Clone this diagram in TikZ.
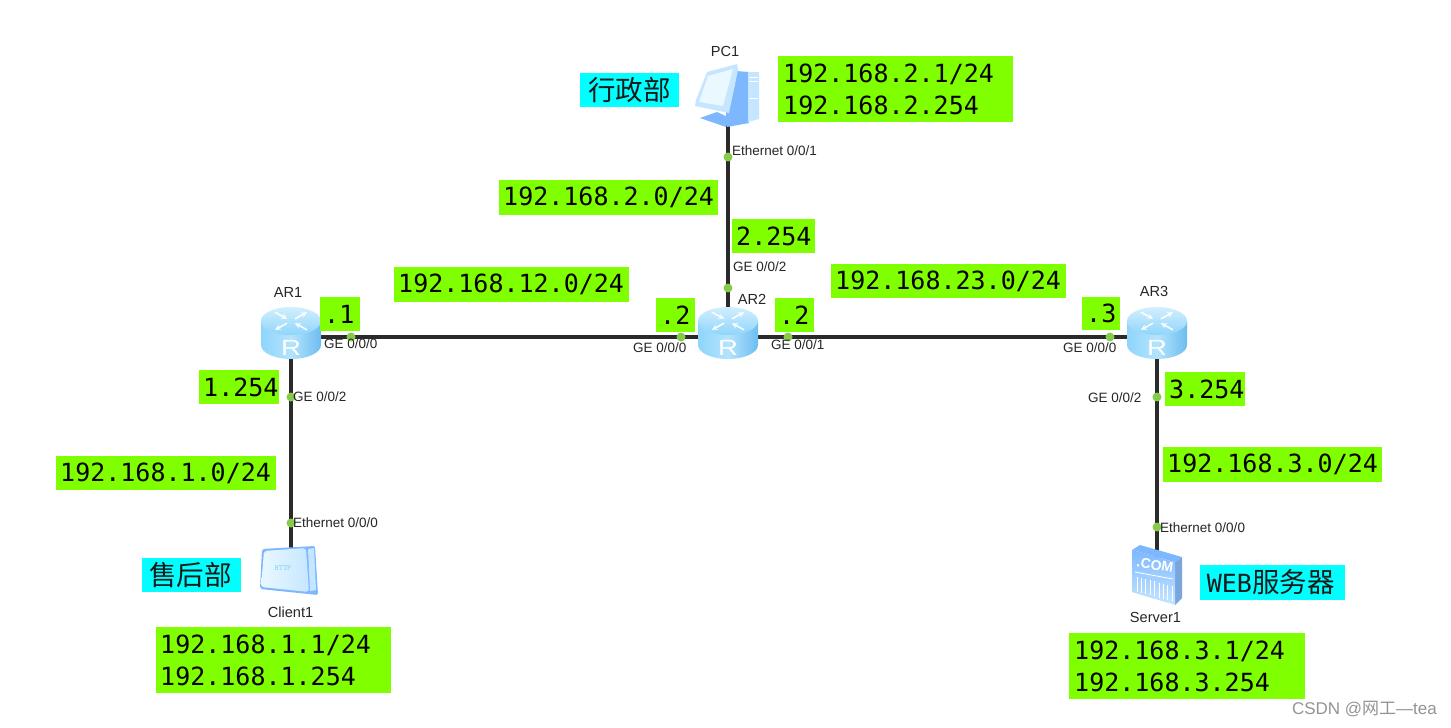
\documentclass[tikz,border=0pt]{standalone}
\usepackage{fontspec}
\setmainfont{Liberation Sans}
\newfontfamily\cjk{Noto Sans CJK SC}
\newfontfamily\monof{DejaVu Sans Mono}
\usetikzlibrary{calc}
\definecolor{lime}{HTML}{7FFF00}
\definecolor{aqua}{HTML}{00FFFF}
\definecolor{dotg}{HTML}{86CB4A}
\definecolor{wire}{HTML}{2A2A2A}
\definecolor{rlight}{HTML}{B4E4FD}
\definecolor{rmid}{HTML}{8FD5FB}
\definecolor{rdark}{HTML}{6DBDF0}
\definecolor{devblue}{HTML}{7DB8FF}
\definecolor{devpale}{HTML}{C6E6FF}
\definecolor{devwhite}{HTML}{EAF8FF}
\tikzset{
  x=1pt,y=-1pt,
  link/.style={draw=wire,line width=3.1pt},
  port/.style={circle,fill=dotg,inner sep=0pt,minimum size=9pt},
  plabel/.style={font=\fontsize{13.5}{14}\selectfont,text=black!85,inner sep=0pt,anchor=west},
  devname/.style={font=\fontsize{14.6}{15}\selectfont,text=black!85,inner sep=0pt},
  limebox/.style={fill=lime,inner sep=0pt,anchor=north west},
  limetext/.style={inner sep=0pt,font=\fontsize{25}{32}\selectfont\monof,align=left,anchor=west,text=black},
  aquabox/.style={fill=aqua,inner sep=0pt,anchor=north west},
  aquatext/.style={inner sep=0pt,font=\fontsize{27.5}{30}\selectfont\cjk,text=black!90},
  pics/router/.style={code={
    \shade[left color=rmid,right color=rdark,middle color=rlight] (-30,-12) -- (30,-12) -- (30,12)
       arc[start angle=0,end angle=180,x radius=30,y radius=14] -- cycle;
    \shade[top color=rlight!60!white,bottom color=rmid] (0,-12) ellipse[x radius=30,y radius=14];
    \begin{scope}[shift={(0,-12)},yscale=.55]
      \draw[white,line width=1.5pt,-stealth] (4,-4) -- (16,-16);
      \draw[white,line width=1.5pt,-stealth] (-4,4) -- (-16,16);
      \draw[white,line width=1.5pt,-stealth] (-16,-16) -- (-4,-4);
      \draw[white,line width=1.5pt,-stealth] (16,16) -- (4,4);
    \end{scope}
    \node[font=\fontsize{22}{22}\selectfont,text=white,inner sep=0pt,xscale=1.25] at (0,14.5) {R};
  }}
}
\newcommand{\pcicon}{%
  \fill[devblue] (736,71) -- (749,72) -- (749,123) -- (727,127) -- (726,113) -- cycle;
  \fill[devpale] (748,72) -- (759,72) -- (759,119) -- (748,122) -- cycle;
  \draw[white,line width=.8pt] (749,77) -- (758,77) (749,81) -- (758,81) (749,98) -- (758,98);
  \fill[devblue] (700,118) -- (717,112) -- (730,118) -- (726,127) -- cycle;
  \fill[devpale] (707,72) -- (737,64) -- (738,70) -- (729,113) -- (695,106) -- (696,100) -- cycle;
  \fill[devwhite] (708,76) -- (733,69) -- (723,106) -- (699,102) -- cycle;
}
\newcommand{\clienticon}{%
  \fill[devblue,rounded corners=2pt] (262,549) -- (315,546) -- (318,595) -- (260,589) -- cycle;
  \shade[top color=rlight,bottom color=devwhite,left color=devwhite,right color=devpale,rounded corners=3pt] (264,551) -- (306,548) -- (309,592) -- (261,587) -- cycle;
  \fill[devpale] (308,549) -- (314,548) -- (316,590) -- (310,591) -- cycle;
  \node[font=\fontsize{8}{8}\selectfont\bfseries\ttfamily,text=rmid,inner sep=0pt] at (283,568) {HTTP};
}
\newcommand{\servericon}{%
  \fill[devblue!85!black!90!white] (1175,562) -- (1182,557) -- (1182,598) -- (1175,605) -- cycle;
  \fill[devblue] (1132,550) -- (1140,545) -- (1182,557) -- (1175,562) -- cycle;
  \shade[top color=devblue,bottom color=devpale] (1132,550) -- (1175,562) -- (1175,605) -- (1132,592) -- cycle;
  \node[font=\fontsize{14}{14}\selectfont\bfseries,text=white,inner sep=0pt,rotate=-9] at (1155,565) {.COM};
  \foreach \i in {0,...,8}{\draw[white,line width=1pt] ({1137+4.4*\i},{577+1.1*\i}) -- ({1137+4.4*\i},{592+1.1*\i});}
  \draw[white,line width=.8pt] (1135,572) -- (1173,579);
}
\begin{document}
\begin{tikzpicture}
\useasboundingbox (0,0) rectangle (1451,728);
\fill[white] (0,0) rectangle (1451,728);
% anchors
\coordinate (AR1) at (291,333);
\coordinate (AR2) at (728,333);
\coordinate (AR3) at (1157,333);
\coordinate (PC1) at (728,100);
\coordinate (Client1) at (291,570);
\coordinate (Server1) at (1157,575);
% links
\draw[link] (AR1 |- 0,337) -- (AR2 |- 0,337);
\draw[link] (AR2 |- 0,337) -- (AR3 |- 0,337);
\draw[link] (PC1) -- (AR2);
\draw[link] (AR1) -- (Client1);
\draw[link] (AR3) -- (Server1);
% icons
\pcicon
\clienticon
\servericon
\pic at (AR1) {router};
\pic at (AR2) {router};
\pic at (AR3) {router};
% boxes
\node[aquabox,minimum width=99pt,minimum height=34pt] (bA) at (580,73) {};
\node[aquatext] (tA) at (bA.center) {行政部};
\node[aquabox,minimum width=99pt,minimum height=34pt] (bB) at (142,558) {};
\node[aquatext] (tB) at ($(bB.center)+(-1,0)$) {售后部};
\node[aquabox,minimum width=145pt,minimum height=35pt] (bC) at (1200,565) {};
\node[aquatext] (tC) at ($(bC.center)+(-2,-1)$) {{\monof\fontsize{25}{30}\selectfont WEB}服务器};
\newcommand{\lbox}[7]{%
  \node[limebox,minimum width=#3pt,minimum height=#4pt] (#7) at (#1,#2) {};
  \node[limetext] at ($(#7.west)+(#5,0)$) {#6};
}
\lbox{778}{56}{235}{66}{5}{192.168.2.1/24\\192.168.2.254}{n1}
\lbox{499}{180}{219}{35}{4}{192.168.2.0/24}{n2}
\lbox{732}{219}{83}{34}{4}{2.254}{n3}
\lbox{394}{267}{235}{35}{4}{192.168.12.0/24}{n4}
\lbox{831}{264}{235}{34}{4}{192.168.23.0/24}{n5}
\lbox{320}{297}{40}{34}{4}{.1}{n6}
\lbox{656}{298}{39}{34}{4}{.2}{n7}
\lbox{775}{298}{39}{34}{4}{.2}{n8}
\lbox{1082}{297}{38}{33}{4}{.3}{n9}
\lbox{199}{370}{80}{34}{4}{1.254}{n10}
\lbox{56}{456}{220}{34}{4}{192.168.1.0/24}{n11}
\lbox{1165}{372}{80}{34}{4}{3.254}{n12}
\lbox{1163}{447}{219}{35}{4}{192.168.3.0/24}{n13}
\lbox{156}{627}{235}{66}{4}{192.168.1.1/24\\192.168.1.254}{n14}
\lbox{1069}{633}{236}{66}{5}{192.168.3.1/24\\192.168.3.254}{n15}
% ports
\foreach \n/\x/\y in {p1/728/157,p2/728/288,p3/351/337,p4/681/337,p5/788/337,p6/1110/337,p7/291/397,p8/291/523,p9/1157/397,p10/1157/527}{
  \node[port] (\n) at (\x,\y) {};
}
% port labels
\node[plabel] (l1) at (732,151) {Ethernet 0/0/1};
\node[plabel] (l2) at (733,267) {GE 0/0/2};
\node[plabel] (l3) at (324,344) {GE 0/0/0};
\node[plabel] (l4) at (633,348) {GE 0/0/0};
\node[plabel] (l5) at (771,345) {GE 0/0/1};
\node[plabel] (l6) at (1063,348) {GE 0/0/0};
\node[plabel] (l7) at (293,397) {GE 0/0/2};
\node[plabel] (l8) at (293,523) {Ethernet 0/0/0};
\node[plabel] (l9) at (1088,398) {GE 0/0/2};
\node[plabel] (l10) at (1160,528) {Ethernet 0/0/0};
% device names
\node[devname] (t1) at (725,51) {PC1};
\node[devname] (t2) at (288,292) {AR1};
\node[devname] (t3) at (752,299) {AR2};
\node[devname] (t4) at (1154,291) {AR3};
\node[devname] (t5) at (290.5,612) {Client1};
\node[devname] (t6) at (1155.5,617) {Server1};
% watermark
\node[inner sep=0pt,anchor=east,text=black!42,font=\fontsize{17}{18}\selectfont] (wm) at (1437,709) {CSDN @{\cjk 网工}—tea};
\end{tikzpicture}
\end{document}
